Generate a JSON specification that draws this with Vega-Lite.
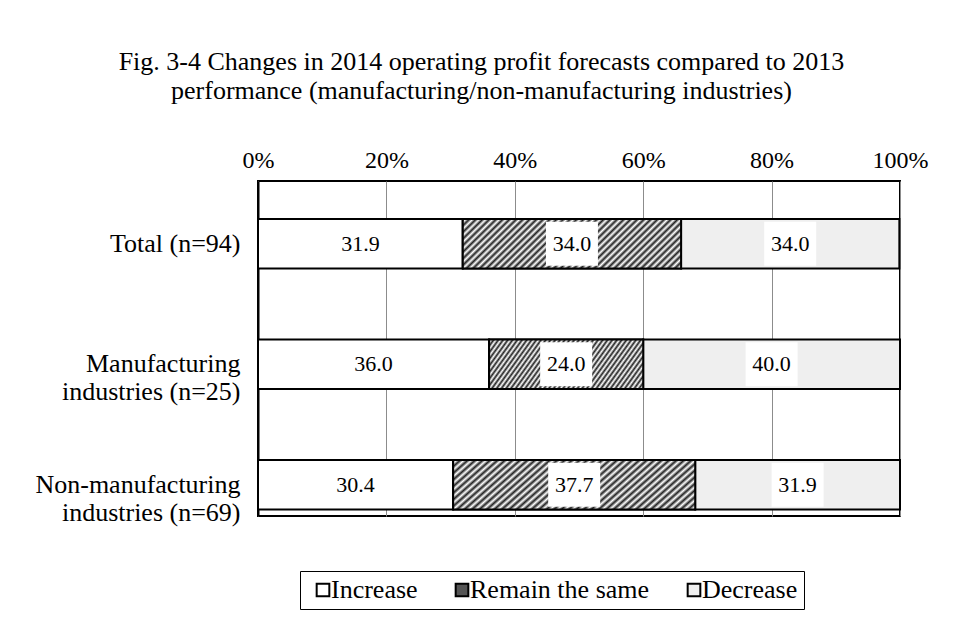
{
  "$schema": "https://vega.github.io/schema/vega-lite/v6.json",
  "width": 642,
  "height": 335,
  "autosize": "none",
  "padding": {"left": 258, "top": 181, "right": 57, "bottom": 117},
  "background": "white",
  "config": {
    "font": "Liberation Serif",
    "view": {"stroke": "black", "strokeWidth": 2}
  },
  "title": {
    "text": ["Fig. 3-4  Changes in 2014 operating profit forecasts compared to 2013", "performance (manufacturing/non-manufacturing industries)"],
    "fontSize": 26,
    "fontWeight": "normal",
    "font": "Liberation Serif",
    "color": "black",
    "frame": "bounds",
    "anchor": "middle",
    "lineHeight": 29,
    "offset": 44
  },
  "data": {
    "values": [
      {"category": "Total (n=94)", "response": "Increase", "order": 1, "value": 31.9},
      {"category": "Total (n=94)", "response": "Remain the same", "order": 2, "value": 34.0},
      {"category": "Total (n=94)", "response": "Decrease", "order": 3, "value": 34.0},
      {"category": "Manufacturing industries (n=25)", "response": "Increase", "order": 1, "value": 36.0},
      {"category": "Manufacturing industries (n=25)", "response": "Remain the same", "order": 2, "value": 24.0},
      {"category": "Manufacturing industries (n=25)", "response": "Decrease", "order": 3, "value": 40.0},
      {"category": "Non-manufacturing industries (n=69)", "response": "Increase", "order": 1, "value": 30.4},
      {"category": "Non-manufacturing industries (n=69)", "response": "Remain the same", "order": 2, "value": 37.7},
      {"category": "Non-manufacturing industries (n=69)", "response": "Decrease", "order": 3, "value": 31.9}
    ]
  },
  "transform": [
    {"stack": "value", "groupby": ["category"], "sort": [{"field": "order", "order": "ascending"}], "as": ["x0", "x1"]}
  ],
  "encoding": {
    "y": {
      "field": "category",
      "type": "nominal",
      "sort": ["Total (n=94)", "Manufacturing industries (n=25)", "Non-manufacturing industries (n=69)"],
      "scale": {"paddingInner": 0.589, "paddingOuter": 0.185, "align": 0.854},
      "axis": {
        "title": null,
        "orient": "left",
        "domain": true,
        "domainColor": "black",
        "domainWidth": 2,
        "ticks": false,
        "labelFont": "Liberation Serif",
        "labelFontSize": 26,
        "labelColor": "black",
        "labelLineHeight": 28,
        "labelPadding": 18,
        "labelAlign": "right",
        "labelBaseline": "middle",
        "labelLimit": 300,
        "labelExpr": "datum.value == 'Total (n=94)' ? datum.value : split(replace(datum.value, ' industries', '|industries'), '|')"
      }
    }
  },
  "layer": [
    {
      "mark": {"type": "bar", "stroke": "black", "strokeWidth": 2},
      "encoding": {
        "x": {
          "field": "x0",
          "type": "quantitative",
          "scale": {"domain": [0, 100], "nice": false},
          "axis": {
            "title": null,
            "orient": "top",
            "values": [0, 20, 40, 60, 80, 100],
            "labelExpr": "datum.value + '%'",
            "grid": true,
            "gridColor": "#8c8c8c",
            "gridWidth": 1,
            "ticks": false,
            "domain": false,
            "labelFont": "Liberation Serif",
            "labelFontSize": 24,
            "labelColor": "black",
            "labelPadding": 9,
            "labelFlush": false
          }
        },
        "x2": {"field": "x1"},
        "fill": {
          "field": "response",
          "type": "nominal",
          "sort": ["Increase", "Remain the same", "Decrease"],
          "scale": {
            "domain": ["Increase", "Remain the same", "Decrease"],
            "range": ["#ffffff", "#555555", "#efefef"]
          },
          "legend": {
            "title": null,
            "orient": "none",
            "legendX": 42,
            "legendY": 390,
            "direction": "horizontal",
            "columns": 3,
            "strokeColor": "black",
            "padding": 6,
            "symbolOffset": 4,
            "symbolType": "square",
            "symbolSize": 160,
            "symbolStrokeColor": "black",
            "symbolStrokeWidth": 2,
            "labelFont": "Liberation Serif",
            "labelFontSize": 26,
            "labelColor": "black",
            "labelOffset": -5,
            "columnPadding": 27,
            "labelLimit": 300
          }
        }
      }
    },
    {
      "transform": [{"filter": {"field": "response", "equal": "Remain the same"}}],
      "mark": {
        "type": "bar",
        "stroke": "black",
        "strokeWidth": 2,
        "fill": {
          "gradient": "linear",
          "x1": 0, "y1": 0, "x2": 1.17, "y2": 0.27,
          "stops": [
            {"offset": 0, "color": "#222222"}, {"offset": 0.0125, "color": "#ffffff"},
            {"offset": 0.025, "color": "#222222"}, {"offset": 0.0375, "color": "#ffffff"},
            {"offset": 0.05, "color": "#222222"}, {"offset": 0.0625, "color": "#ffffff"},
            {"offset": 0.075, "color": "#222222"}, {"offset": 0.0875, "color": "#ffffff"},
            {"offset": 0.1, "color": "#222222"}, {"offset": 0.1125, "color": "#ffffff"},
            {"offset": 0.125, "color": "#222222"}, {"offset": 0.1375, "color": "#ffffff"},
            {"offset": 0.15, "color": "#222222"}, {"offset": 0.1625, "color": "#ffffff"},
            {"offset": 0.175, "color": "#222222"}, {"offset": 0.1875, "color": "#ffffff"},
            {"offset": 0.2, "color": "#222222"}, {"offset": 0.2125, "color": "#ffffff"},
            {"offset": 0.225, "color": "#222222"}, {"offset": 0.2375, "color": "#ffffff"},
            {"offset": 0.25, "color": "#222222"}, {"offset": 0.2625, "color": "#ffffff"},
            {"offset": 0.275, "color": "#222222"}, {"offset": 0.2875, "color": "#ffffff"},
            {"offset": 0.3, "color": "#222222"}, {"offset": 0.3125, "color": "#ffffff"},
            {"offset": 0.325, "color": "#222222"}, {"offset": 0.3375, "color": "#ffffff"},
            {"offset": 0.35, "color": "#222222"}, {"offset": 0.3625, "color": "#ffffff"},
            {"offset": 0.375, "color": "#222222"}, {"offset": 0.3875, "color": "#ffffff"},
            {"offset": 0.4, "color": "#222222"}, {"offset": 0.4125, "color": "#ffffff"},
            {"offset": 0.425, "color": "#222222"}, {"offset": 0.4375, "color": "#ffffff"},
            {"offset": 0.45, "color": "#222222"}, {"offset": 0.4625, "color": "#ffffff"},
            {"offset": 0.475, "color": "#222222"}, {"offset": 0.4875, "color": "#ffffff"},
            {"offset": 0.5, "color": "#222222"}, {"offset": 0.5125, "color": "#ffffff"},
            {"offset": 0.525, "color": "#222222"}, {"offset": 0.5375, "color": "#ffffff"},
            {"offset": 0.55, "color": "#222222"}, {"offset": 0.5625, "color": "#ffffff"},
            {"offset": 0.575, "color": "#222222"}, {"offset": 0.5875, "color": "#ffffff"},
            {"offset": 0.6, "color": "#222222"}, {"offset": 0.6125, "color": "#ffffff"},
            {"offset": 0.625, "color": "#222222"}, {"offset": 0.6375, "color": "#ffffff"},
            {"offset": 0.65, "color": "#222222"}, {"offset": 0.6625, "color": "#ffffff"},
            {"offset": 0.675, "color": "#222222"}, {"offset": 0.6875, "color": "#ffffff"},
            {"offset": 0.7, "color": "#222222"}, {"offset": 0.7125, "color": "#ffffff"},
            {"offset": 0.725, "color": "#222222"}, {"offset": 0.7375, "color": "#ffffff"},
            {"offset": 0.75, "color": "#222222"}, {"offset": 0.7625, "color": "#ffffff"},
            {"offset": 0.775, "color": "#222222"}, {"offset": 0.7875, "color": "#ffffff"},
            {"offset": 0.8, "color": "#222222"}, {"offset": 0.8125, "color": "#ffffff"},
            {"offset": 0.825, "color": "#222222"}, {"offset": 0.8375, "color": "#ffffff"},
            {"offset": 0.85, "color": "#222222"}, {"offset": 0.8625, "color": "#ffffff"},
            {"offset": 0.875, "color": "#222222"}, {"offset": 0.8875, "color": "#ffffff"},
            {"offset": 0.9, "color": "#222222"}, {"offset": 0.9125, "color": "#ffffff"},
            {"offset": 0.925, "color": "#222222"}, {"offset": 0.9375, "color": "#ffffff"},
            {"offset": 0.95, "color": "#222222"}, {"offset": 0.9625, "color": "#ffffff"},
            {"offset": 0.975, "color": "#222222"}, {"offset": 0.9875, "color": "#ffffff"},
            {"offset": 1, "color": "#222222"}
          ]
        }
      },
      "encoding": {
        "x": {"field": "x0", "type": "quantitative"},
        "x2": {"field": "x1"}
      }
    },
    {
      "transform": [
        {"fold": ["x0", "x1"], "as": ["edge", "pos"]},
        {"aggregate": [{"op": "mean", "field": "pos", "as": "mid"}], "groupby": ["category", "response", "value"]}
      ],
      "mark": {"type": "tick", "fill": "white", "stroke": null, "opacity": 1, "thickness": 52, "size": 44},
      "encoding": {
        "x": {"field": "mid", "type": "quantitative"}
      }
    },
    {
      "transform": [
        {"fold": ["x0", "x1"], "as": ["edge", "pos"]},
        {"aggregate": [{"op": "mean", "field": "pos", "as": "mid"}], "groupby": ["category", "response", "value"]}
      ],
      "mark": {"type": "text", "font": "Liberation Serif", "fontSize": 22, "color": "black"},
      "encoding": {
        "x": {"field": "mid", "type": "quantitative"},
        "text": {"field": "value", "type": "quantitative", "format": ".1f"}
      }
    }
  ]
}
